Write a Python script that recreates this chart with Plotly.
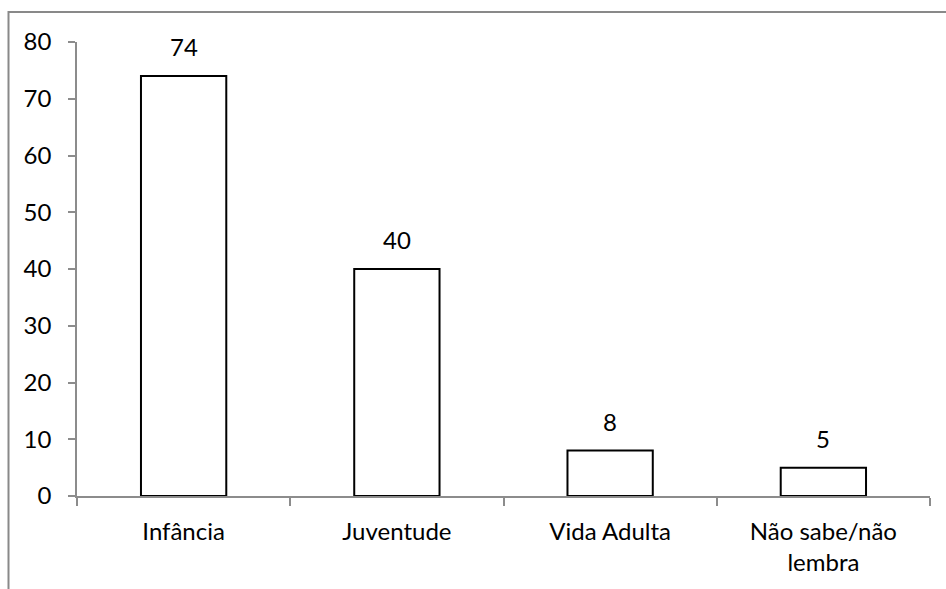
import plotly.graph_objects as go

categories = ["Infância", "Juventude", "Vida Adulta", "Não sabe/não<br>lembra"]
values = [74, 40, 8, 5]
y_ticks = [0, 10, 20, 30, 40, 50, 60, 70, 80]

FONT = "Lato"
FS = 24
AX = "#8c8c8c"

fig = go.Figure()
fig.add_trace(go.Bar(
    x=categories, y=values,
    marker=dict(color="white", line=dict(color="black", width=2)),
    hoverinfo="skip",
))

for c, v in zip(categories, values):
    fig.add_annotation(x=c, y=v, text=str(v), showarrow=False,
                       yanchor="bottom", yshift=13,
                       font=dict(family=FONT, size=FS, color="black"))

W, H = 946, 589
L, R, T, B = 77, 16, 42, 93
pw, ph = W - L - R, H - T - B

# outer chart frame (gray), extends beyond the right and bottom edges
fig.add_shape(type="rect", xref="paper", yref="paper",
              x0=(8.5 - L) / pw, x1=(W + 20 - L) / pw,
              y0=-(H + 20 - T - ph) / ph - 0.02, y1=(H - B - 12) / ph,
              line=dict(color="#898989", width=2), fillcolor="rgba(0,0,0,0)",
              layer="below")

fig.update_layout(
    width=W, height=H,
    margin=dict(l=L, r=R, t=T, b=B),
    paper_bgcolor="white", plot_bgcolor="white",
    bargap=0.6, showlegend=False,
    font=dict(family=FONT, size=FS, color="black"),
    xaxis=dict(
        showline=True, linecolor=AX, linewidth=1.5,
        ticks="outside", tickson="boundaries", ticklen=8, tickcolor=AX, tickwidth=1.5,
        showgrid=False, zeroline=False,
        ticklabelstandoff=13,
        tickfont=dict(family=FONT, size=FS, color="black"),
    ),
    yaxis=dict(
        range=[0, 80], tickvals=y_ticks,
        showline=True, linecolor=AX, linewidth=1.5,
        ticks="outside", ticklen=7, tickcolor=AX, tickwidth=1.5,
        showgrid=False, zeroline=False,
        ticklabelstandoff=12,
        tickfont=dict(family=FONT, size=FS, color="black"),
    ),
)

fig.write_html("out.html")
